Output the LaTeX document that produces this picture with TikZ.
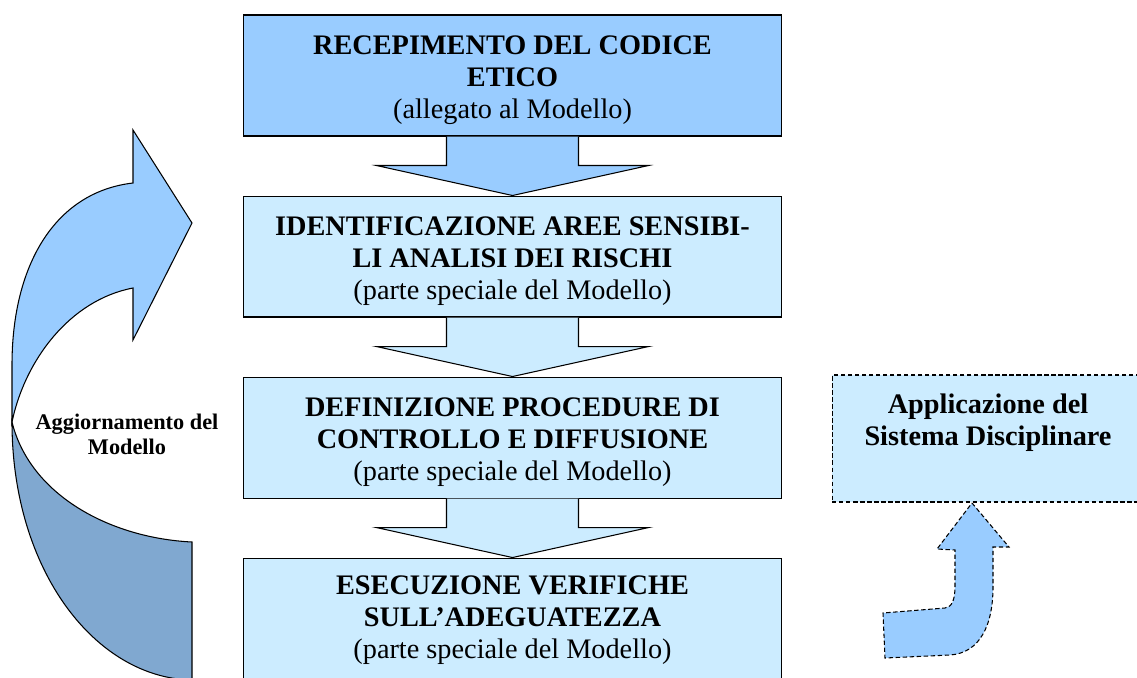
\documentclass[tikz,border=0pt]{standalone}
\usepackage{fontspec}
\setmainfont{Liberation Serif}
\usetikzlibrary{positioning,calc}
\definecolor{bluscuro}{HTML}{99CCFF}
\definecolor{bluchiaro}{HTML}{CCECFF}
\definecolor{blufondo}{HTML}{80A8D0}

% freccia a blocco tra due riquadri
\newcommand{\flowarrow}[3]{%
	\filldraw[#3] ($(#1.south)+(-66,0)$) -- ($(#1.south)+(-66,29)$) -- ($(#1.south)+(-136,29)$) -- (#2.north) -- ($(#1.south)+(136,29)$) -- ($(#1.south)+(66,29)$) -- ($(#1.south)+(66,0)$);
}
% spazio sopra la prima riga
\newcommand{\alto}{\rule{0pt}{15.5pt}}

\begin{document}
\begin{tikzpicture}[x=0.02cm, y=-0.02cm, line width=0.6pt,
	fase/.style={draw, fill=bluchiaro, minimum width=10.78cm, minimum height=2.42cm, inner sep=0pt, align=center, font=\fontsize{16.1}{18.2}\selectfont},
	tratteggio/.style={draw, dash pattern=on 2.5pt off 1.5pt}]
	\useasboundingbox (0,0) rectangle (1137,677);
	\clip (0,0) rectangle (1137,677);

	% riquadri centrali
	\node[fase, fill=bluscuro] (codice) at (512.5,75.5) {\alto\textbf{RECEPIMENTO DEL CODICE}\\\textbf{ETICO}\\(allegato al Modello)};
	\node[fase, below=1.18cm of codice] (aree) {\alto\textbf{IDENTIFICAZIONE AREE SENSIBI-}\\\textbf{LI ANALISI DEI RISCHI}\\(parte speciale del Modello)};
	\node[fase, below=1.18cm of aree] (procedure) {\alto\textbf{DEFINIZIONE PROCEDURE DI}\\\textbf{CONTROLLO E DIFFUSIONE}\\(parte speciale del Modello)};
	\node[fase, below=1.18cm of procedure, minimum height=2.5cm] (verifiche) {\textbf{ESECUZIONE VERIFICHE}\\\textbf{SULL’ADEGUATEZZA}\\(parte speciale del Modello)};

	\flowarrow{codice}{aree}{fill=bluscuro}
	\flowarrow{aree}{procedure}{fill=bluchiaro}
	\flowarrow{procedure}{verifiche}{fill=bluchiaro}

	% sistema disciplinare
	\node[tratteggio, fill=bluchiaro, minimum width=6.24cm, minimum height=2.54cm] (disc) at (988,438.5) {};
	\node[align=center, font=\fontsize{16.1}{18.2}\selectfont\bfseries] (disctesto) at (988,423) {Applicazione del\\Sistema Disciplinare};
	\filldraw[tratteggio, fill=bluscuro] (972,503) -- (1009,547) -- (993,547) -- (993,587) .. controls (993,625) and (980,653) .. (950,655) -- (885,658) -- (883,613) -- (945,608) .. controls (952,607) and (955,600) .. (955,586) -- (955,550) -- (937,549) -- cycle;

	% freccia curva di aggiornamento
	\filldraw[fill=blufondo] (12,422) .. controls (12,570) and (95,678) .. (192,680) -- (192,542) .. controls (110,538) and (30,495) .. (12,422) -- cycle;
	\filldraw[fill=bluscuro] (133,183) -- (133,130) -- (192,223) -- (133,340) -- (133,288) .. controls (70,300) and (25,360) .. (12,422) -- (12,365) .. controls (12,265) and (55,192) .. (133,183) -- cycle;
	\node[align=center, font=\fontsize{12.7}{14.2}\selectfont\bfseries] (aggiorna) at (127,434) {Aggiornamento del\\Modello};
\end{tikzpicture}
\end{document}
